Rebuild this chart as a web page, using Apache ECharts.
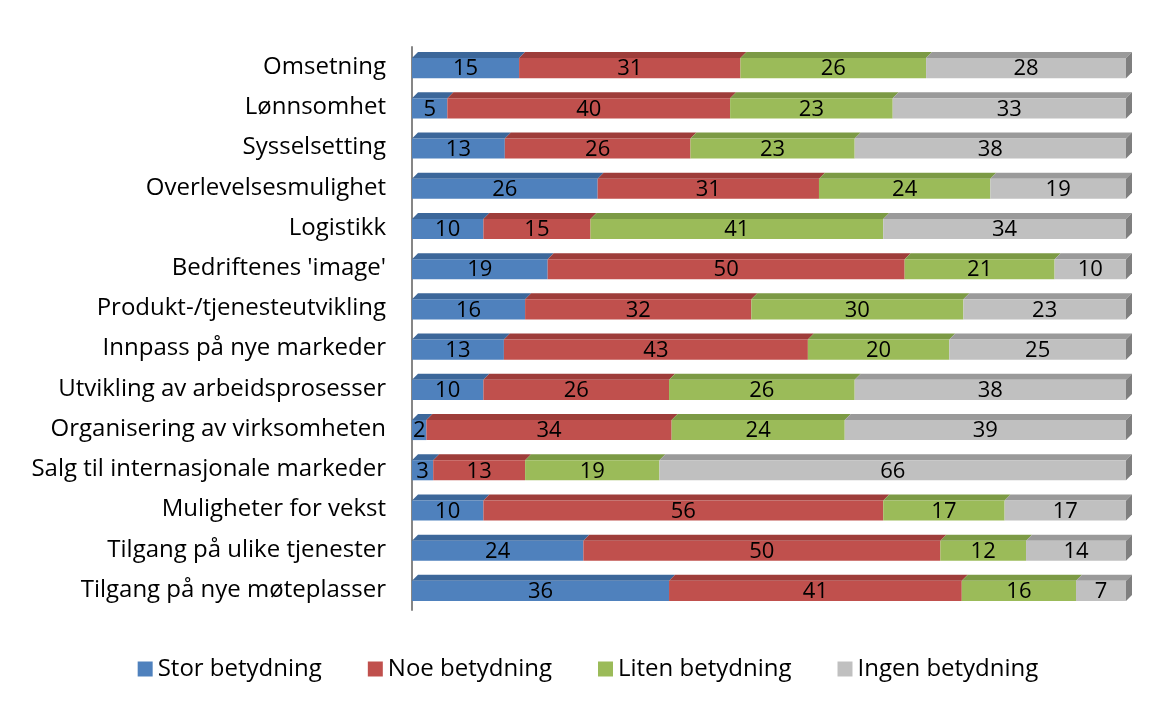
<!DOCTYPE html>
<html><head><meta charset="utf-8">
<script src="https://cdn.jsdelivr.net/npm/echarts@6/dist/echarts.min.js"></script>
<style>html,body{margin:0;padding:0;background:#fff}#c{width:1176px;height:712px}</style>
</head><body><div id="c"></div>
<script>
const categories = ["Omsetning","Lønnsomhet","Sysselsetting","Overlevelsesmulighet","Logistikk","Bedriftenes 'image'","Produkt-/tjenesteutvikling","Innpass på nye markeder","Utvikling av arbeidsprosesser","Organisering av virksomheten","Salg til internasjonale markeder","Muligheter for vekst","Tilgang på ulike tjenester","Tilgang på nye møteplasser"];
const seriesNames = ["Stor betydning","Noe betydning","Liten betydning","Ingen betydning"];
const stor  = [15,5,13,26,10,19,16,13,10,2,3,10,24,36];
const noe   = [31,40,26,31,15,50,32,43,26,34,13,56,50,41];
const liten = [26,23,23,24,41,21,30,20,26,24,19,17,12,16];
const ingen = [28,33,38,19,34,10,23,25,38,39,66,17,14,7];
const values = [stor, noe, liten, ingen];
const colors = ["#4F81BD","#C0504D","#9BBB59","#C0C0C0"];
const topColors = ["#3C679A","#9E3D3A","#7C9A45","#9A9A9A"];
const sideColor = "#7F7F7F";
const FONT = "'Open Sans', 'Noto Sans', sans-serif";

// 100% stacking
const sums = categories.map((_, i) => values.reduce((s, arr) => s + arr[i], 0));
const series = values.map((arr, si) => {
  const data = arr.map((v, i) => {
    let start = 0;
    for (let k = 0; k < si; k++) start += values[k][i] / sums[i] * 100;
    const end = start + v / sums[i] * 100;
    return [start, end, i, v, si === values.length - 1 ? 1 : 0];
  });
  return {
    type: 'custom', name: seriesNames[si], data: data,
    encode: { x: [0, 1], y: 2 },
    itemStyle: { color: colors[si] },
    renderItem: function (params, api) {
      const start = api.value(0), end = api.value(1), cat = api.value(2);
      const label = api.value(3), last = api.value(4);
      const p0 = api.coord([start, cat]);
      const p1 = api.coord([end, cat]);
      const band = api.size([0, 1])[1];
      const h = band * 0.5;
      const d = 6;
      const x0 = p0[0], x1 = p1[0];
      const yTop = p0[1] - h / 2 + 1, yBot = yTop + h;
      const children = [
        { type: 'polygon', shape: { points: [[x0, yTop], [x0 + d, yTop - d], [x1 + d, yTop - d], [x1, yTop]] }, style: { fill: topColors[si] } },
        { type: 'rect', shape: { x: x0, y: yTop, width: x1 - x0, height: h }, style: { fill: colors[si] } },
        { type: 'text', x: (x0 + x1) / 2, y: yTop + h / 2 + 1, style: { text: String(label), fill: '#000', font: "22px " + FONT, align: 'center', verticalAlign: 'middle' } }
      ];
      if (last) {
        children.push({ type: 'polygon', shape: { points: [[x1, yTop], [x1 + d, yTop - d], [x1 + d, yBot - d], [x1, yBot]] }, style: { fill: sideColor } });
      }
      return { type: 'group', children: children };
    }
  };
});

const chart = echarts.init(document.getElementById('c'), null, { renderer: 'canvas' });
chart.setOption({
  animation: false,
  grid: { left: 412, right: 50, top: 47, bottom: 102 },
  xAxis: { type: 'value', min: 0, max: 100, show: false },
  yAxis: {
    type: 'category', data: categories, inverse: true,
    axisLine: { show: true, lineStyle: { color: '#868686', width: 2 } },
    axisTick: { show: false },
    offset: 5,
    axisLabel: { color: '#000', fontSize: 24, fontFamily: FONT, margin: 21 }
  },
  legend: {
    bottom: 26, left: 'center', itemWidth: 15, itemHeight: 15, itemGap: 46, icon: 'rect',
    textStyle: { color: '#000', fontSize: 24, fontFamily: FONT },
    data: seriesNames.map((n, i) => ({ name: n, itemStyle: { color: colors[i] } }))
  },
  series: series
});
</script></body></html>
